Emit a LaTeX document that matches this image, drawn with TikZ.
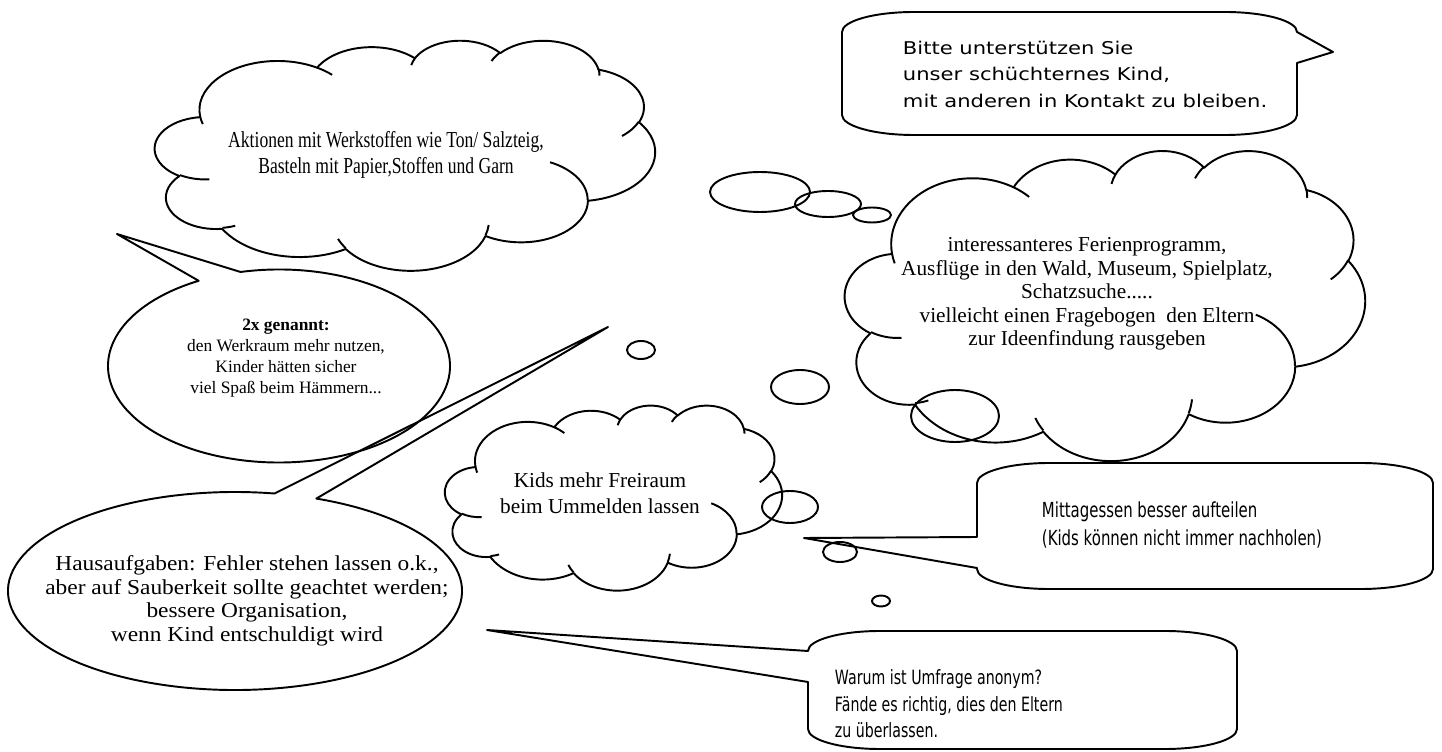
\documentclass[tikz,border=0pt]{standalone}
\usepackage{fontspec}
\setmainfont{Liberation Serif}
\newfontfamily\serifschmal{Liberation Serif}[FakeStretch=0.77]
\newfontfamily\serifbreit{Liberation Serif}[FakeStretch=1.1]
\newfontfamily\comicbreit{DejaVu Sans}[FakeStretch=1.2]
\newfontfamily\comicschmal{DejaVu Sans}[FakeStretch=0.72]
\usetikzlibrary{positioning}

% Bogen einer Wolke, Winkel wie bei Word (echte Winkel)
\newcommand\wbogen[4]{%
  \pgfextra{%
    \pgfmathsetmacro\wbs{atan2(sin(#3)/#2,cos(#3)/#1)}%
    \pgfmathsetmacro\wbe{atan2(sin(#3+#4)/#2,cos(#3+#4)/#1)}%
    \pgfmathsetmacro\wbe{\wbe<\wbs ? \wbe+360 : \wbe}%
    \xdef\wbS{\wbs}\xdef\wbE{\wbe}}%
  arc[x radius=#1, y radius=#2, start angle=\wbS, end angle=\wbE]}

% Wolke im Rechteck: x, y, Breite, Hoehe
\newcommand\wolke[4]{%
  \begin{scope}[shift={(#1,#2)}, x=#3/43.2*0.2mm, y=-#4/43.2*0.2mm]
    \draw (3.9,14.37) \wbogen{6.753}{9.19}{-190.4875}{123.7805}
      \wbogen{5.333}{7.267}{-144.1024}{89.9452}
      \wbogen{4.365}{5.945}{-145.8079}{99.723}
      \wbogen{4.857}{6.595}{-130.9861}{117.2417}
      \wbogen{5.333}{7.273}{-78.7089}{109.0269}
      \wbogen{6.775}{9.22}{-46.2673}{130.269}
      \wbogen{5.785}{7.867}{0.625}{114.0333}
      \wbogen{6.752}{9.215}{22.4516}{115.1726}
      \wbogen{7.72}{10.543}{66.2426}{75.711}
      \wbogen{4.36}{5.918}{-274.9421}{146.7356}
      \wbogen{4.345}{5.945}{-246.8285}{152.5189} -- cycle;
    \draw (4.693,26.177) \wbogen{4.345}{5.945}{86.742}{26.4295}
      (6.928,34.899) \wbogen{4.36}{5.918}{73.6105}{11.4475}
      (16.478,39.09) \wbogen{6.752}{9.215}{137.6242}{14.0811}
      (28.827,34.751) \wbogen{6.752}{9.215}{6.4533}{15.9984}
      (34.129,22.954) \wbogen{5.785}{7.867}{-70.2924}{70.9174}
      (41.798,15.354) \wbogen{5.333}{7.273}{30.318}{27.7515}
      (38.324,5.426) \wbogen{4.857}{6.595}{-13.7443}{14.8589}
      (29.078,3.952) \wbogen{4.857}{6.595}{-149.1815}{18.1954}
      (22.141,4.72) \wbogen{4.365}{5.945}{-163.4943}{17.6864}
      (14,5.192) \wbogen{6.753}{9.19}{-66.707}{12.3194}
      (4.127,15.789) \wbogen{6.753}{9.19}{157.6544}{11.8582};
  \end{scope}}

\begin{document}
\begin{tikzpicture}[
  x=0.2mm, y=-0.2mm, line width=1.1pt, line join=round,
  wolkentext/.style={align=center, inner sep=0pt},
  kastentext/.style={align=left, anchor=west, inner sep=0pt}
]
\useasboundingbox (0,0) rectangle (1442,752);

% Wolken
\wolke{155}{40}{500}{230}
\wolke{845}{150}{520}{310}
\wolke{445}{405}{337}{185}

% Gedankenblasen
\draw (760,192) ellipse[x radius=50, y radius=20];
\draw (828,204) ellipse[x radius=33, y radius=13];
\draw (872,215) ellipse[x radius=19, y radius=7.5];
\draw (955,416) ellipse[x radius=44, y radius=26];
\draw (800,387) ellipse[x radius=29, y radius=17];
\draw (641,350) ellipse[x radius=14, y radius=9];
\draw (790,507) ellipse[x radius=28, y radius=16];
\draw (840,552) ellipse[x radius=17, y radius=10];
\draw (881,601) ellipse[x radius=9, y radius=5.5];

% Ellipsen mit Spitze
\coordinate (werkraummitte) at (279,366);
\coordinate (spitzeW) at (117,234);
\draw (werkraummitte) ++(257:171 and 96.5)
  arc[start angle=257, end angle=602, x radius=171, y radius=96.5]
  -- (spitzeW) -- cycle;
\coordinate (hausmitte) at (235,591);
\coordinate (spitzeH) at (608,327);
\draw (hausmitte) ++(291:227 and 99)
  arc[start angle=291, end angle=640, x radius=227, y radius=99]
  -- (spitzeH) -- cycle;

% Kaesten mit Spitze
\coordinate (spitzeA) at (1333,52);
\draw (914,12) -- (1225,12) arc[start angle=-90, end angle=0, x radius=72, y radius=20]
  -- (spitzeA) -- (1297,63) -- (1297,115)
  arc[start angle=0, end angle=90, x radius=72, y radius=20] -- (914,135)
  arc[start angle=90, end angle=180, x radius=72, y radius=20] -- (842,32)
  arc[start angle=180, end angle=270, x radius=72, y radius=20] -- cycle;
\coordinate (spitzeB) at (804,538);
\draw (1049,463) -- (1361,463) arc[start angle=-90, end angle=0, x radius=72, y radius=20]
  -- (1433,569) arc[start angle=0, end angle=90, x radius=72, y radius=20]
  -- (1049,589) arc[start angle=90, end angle=180, x radius=72, y radius=20]
  -- (977,568) -- (spitzeB) -- (977,537) -- (977,483)
  arc[start angle=180, end angle=270, x radius=72, y radius=20] -- cycle;
\coordinate (spitzeC) at (487,630);
\draw (880,631) -- (1165,631) arc[start angle=-90, end angle=0, x radius=72, y radius=20]
  -- (1237,729) arc[start angle=0, end angle=90, x radius=72, y radius=20]
  -- (880,749) arc[start angle=90, end angle=180, x radius=72, y radius=20]
  -- (808,682) -- (spitzeC) -- (808,651)
  arc[start angle=180, end angle=270, x radius=72, y radius=20] -- cycle;

% Texte
\node[wolkentext, font=\serifschmal\fontsize{13}{14.8}\selectfont] (werkstoffe) at (386,155)
  {Aktionen mit Werkstoffen wie Ton/ Salzteig,\\Basteln mit Papier,Stoffen und Garn};
\node[wolkentext, font=\fontsize{12.1}{13.3}\selectfont] (ferien) at (1087,294)
  {interessanteres Ferienprogramm,\\Ausflüge in den Wald, Museum, Spielplatz,\\Schatzsuche.....\\vielleicht einen Fragebogen\ \ den Eltern\\zur Ideenfindung rausgeben};
\node[wolkentext, font=\fontsize{9.9}{12.1}\selectfont] (werkraum) at (286,358)
  {\textbf{2x genannt:}\\den Werkraum mehr nutzen,\\Kinder hätten sicher\\viel Spaß beim Hämmern...};
\node[wolkentext, font=\serifbreit\fontsize{12.1}{13.4}\selectfont] (hausaufgaben) at (247,601)
  {Hausaufgaben: Fehler stehen lassen o.k.,\\aber auf Sauberkeit sollte geachtet werden;\\bessere Organisation,\\wenn Kind entschuldigt wird};
\node[wolkentext, font=\fontsize{12.1}{14.8}\selectfont] (freiraum) at (600,493)
  {Kids mehr Freiraum\\beim Ummelden lassen};
\node[kastentext, font=\comicbreit\fontsize{10}{15.1}\selectfont] (bitte) at (902,74)
  {Bitte unterstützen Sie\\unser schüchternes Kind,\\mit anderen in Kontakt zu bleiben.};
\node[kastentext, font=\comicschmal\fontsize{11.8}{15.4}\selectfont] (mittagessen) at (1041,525)
  {Mittagessen besser aufteilen\\(Kids können nicht immer nachholen)};
\node[kastentext, font=\comicschmal\fontsize{11.2}{15.1}\selectfont] (umfrage) at (834,704)
  {Warum ist Umfrage anonym?\\Fände es richtig, dies den Eltern\\zu überlassen.};
\end{tikzpicture}
\end{document}
